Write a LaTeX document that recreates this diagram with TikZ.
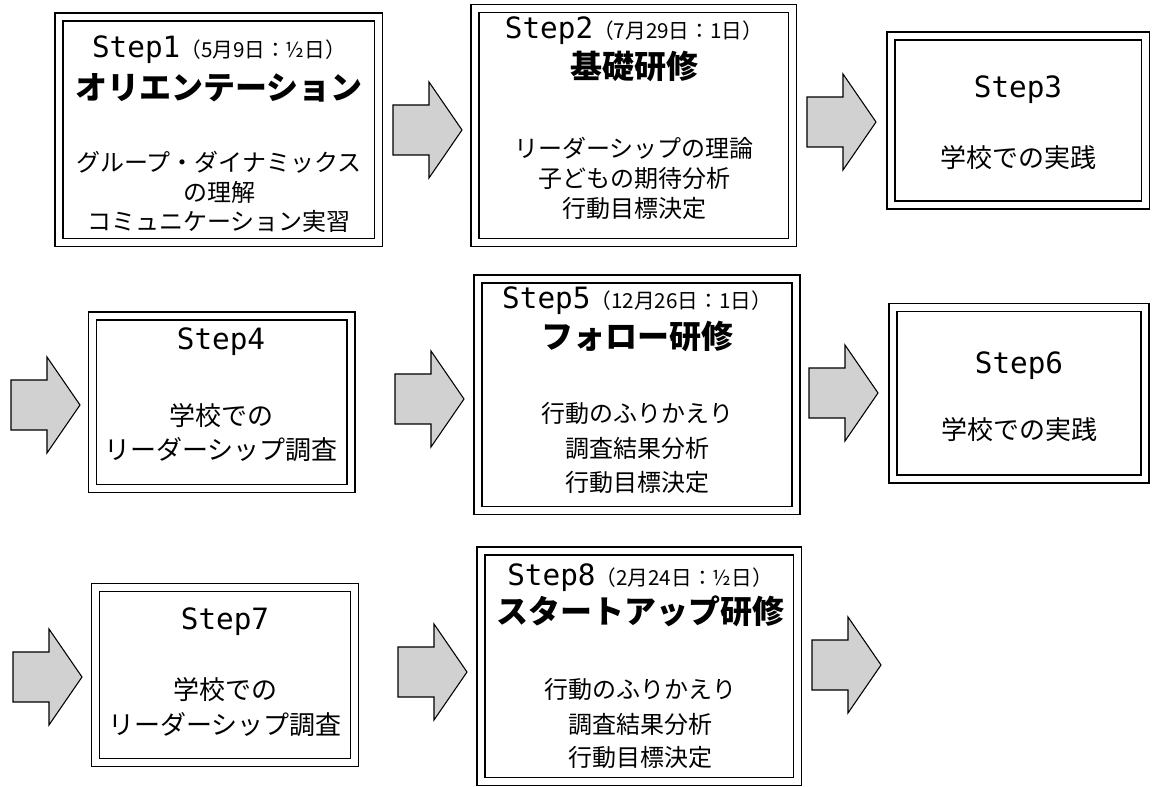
\documentclass[tikz,border=0pt]{standalone}
\usepackage{fontspec}
\usetikzlibrary{fit}
\newfontfamily\jp{Noto Sans CJK JP}
\newfontfamily\stepfont{DejaVu Sans Mono}
\tikzset{
 stagebox/.style={draw, double, double distance=5.2pt, line width=0.8pt, inner sep=0pt},
 blockarr/.style={draw, line width=0.8pt, fill=black!18, line join=miter},
 steplbl/.style={inner sep=0pt, font=\stepfont\fontsize{22}{25}\selectfont},
 titlelbl/.style={inner sep=0pt, font=\jp\bfseries\fontsize{24}{27}\selectfont},
 bodylbl/.style={inner sep=0pt, font=\jp\fontsize{18}{21}\selectfont},
 bodylblL/.style={inner sep=0pt, font=\jp\fontsize{19.5}{22}\selectfont},
}
\newcommand\paren[1]{{\jp\fontsize{15.5}{17}\selectfont #1}}
\newcommand\blockarrow[2]{%
 \draw[blockarr] (#1,#2-25) -- ++(36,0) -- ++(0,-23) -- ++(33,48) -- ++(-33,48) -- ++(0,-23) -- ++(-36,0) -- cycle;}
\begin{document}
\begin{tikzpicture}[x=0.75pt,y=-0.75pt]
\useasboundingbox (0,0) rectangle (1159,787);
% boxes
\node[stagebox, fit={(59,17) (378.5,242.5)}] (b1) {};
\node[stagebox, fit={(475,8.5) (792.5,242.5)}] (b2) {};
\node[stagebox, fit={(891,36) (1145.5,205)}] (b3) {};
\node[stagebox, fit={(92.5,316) (351,488.5)}] (b4) {};
\node[stagebox, fit={(478,279) (796,510.5)}] (b5) {};
\node[stagebox, fit={(893,307.5) (1145,479)}] (b6) {};
\node[stagebox, fit={(95.5,587.5) (354.5,762.5)}] (b7) {};
\node[stagebox, fit={(481,551) (797.5,781.5)}] (b8) {};
% arrows
\blockarrow{393}{130}
\blockarrow{807}{122}
\blockarrow{11}{405}
\blockarrow{395}{399}
\blockarrow{809}{393}
\blockarrow{13}{677}
\blockarrow{398}{672}
\blockarrow{812}{665}
% box 1
\node[steplbl] (s1) at (219,50) {Step1\paren{（5月9日：½日）}};
\node[titlelbl] (t1) at (219,88) {オリエンテーション};
\node[bodylbl] (l1a) at (219,162) {グループ・ダイナミックス};
\node[bodylbl] (l1b) at (219,192) {の理解};
\node[bodylbl] (l1c) at (219,221) {コミュニケーション実習};
% box 2
\node[steplbl] (s2) at (634,31) {Step2\paren{（7月29日：1日）}};
\node[titlelbl] (t2) at (634,66) {基礎研修};
\node[bodylbl] (l2a) at (634,148) {リーダーシップの理論};
\node[bodylbl] (l2b) at (634,178) {子どもの期待分析};
\node[bodylbl] (l2c) at (634,208) {行動目標決定};
% box 3
\node[steplbl] (s3) at (1018,90) {Step3};
\node[bodylblL] (l3a) at (1018,158) {学校での実践};
% box 4
\node[steplbl] (s4) at (221,342) {Step4};
\node[bodylblL] (l4a) at (221,416) {学校での};
\node[bodylblL] (l4b) at (221,450) {リーダーシップ調査};
% box 5
\node[steplbl] (s5) at (637,301) {Step5\paren{（12月26日：1日）}};
\node[titlelbl] (t5) at (637,336) {フォロー研修};
\node[bodylbl] (l5a) at (637,413) {行動のふりかえり};
\node[bodylbl] (l5b) at (637,448) {調査結果分析};
\node[bodylbl] (l5c) at (637,482) {行動目標決定};
% box 6
\node[steplbl] (s6) at (1019,366) {Step6};
\node[bodylblL] (l6a) at (1019,430) {学校での実践};
% box 7
\node[steplbl] (s7) at (225,622) {Step7};
\node[bodylblL] (l7a) at (225,690) {学校での};
\node[bodylblL] (l7b) at (225,725) {リーダーシップ調査};
% box 8
\node[steplbl] (s8) at (640,578) {Step8\paren{（2月24日：½日）}};
\node[titlelbl] (t8) at (640,611) {スタートアップ研修};
\node[bodylbl] (l8a) at (640,689) {行動のふりかえり};
\node[bodylbl] (l8b) at (640,724) {調査結果分析};
\node[bodylbl] (l8c) at (640,757) {行動目標決定};
\end{tikzpicture}
\end{document}
